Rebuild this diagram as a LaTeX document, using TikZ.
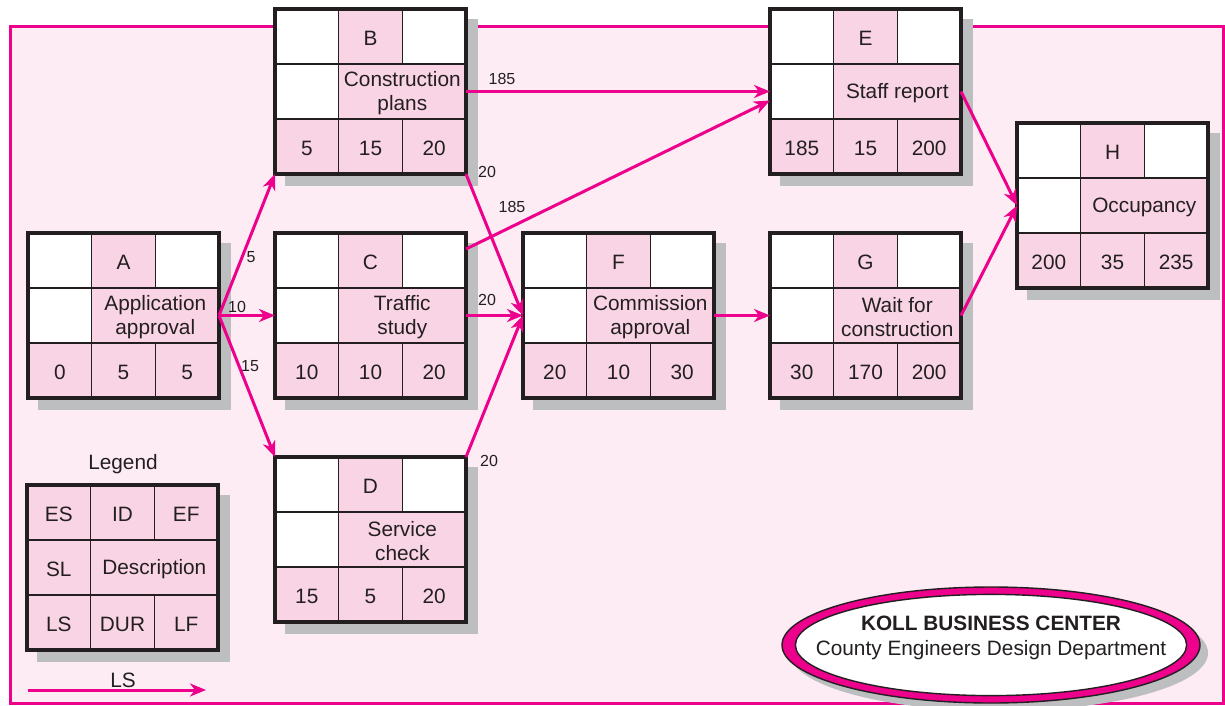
\documentclass[tikz,border=0pt]{standalone}
\usepackage{fontspec}
\setmainfont{Liberation Sans}
\usetikzlibrary{arrows.meta,calc}
\definecolor{mag}{RGB}{236,0,140}
\definecolor{bgpink}{RGB}{253,236,244}
\definecolor{cellpink}{RGB}{249,212,228}
\definecolor{shadowgray}{RGB}{188,190,192}
\definecolor{boxline}{RGB}{35,31,32}
\tikzset{
  thinline/.style={draw=boxline, line width=0.65pt},
  thickline/.style={draw=boxline, line width=1.6pt},
  boxanchor/.style={rectangle, inner sep=0pt, outer sep=0pt, minimum width=95.5pt, minimum height=82.5pt},
  celltext/.style={inner sep=0pt, yshift=-1pt, text=boxline, font=\fontsize{10.4}{12}\selectfont, align=center},
  lbl/.style={inner sep=0pt, text=boxline, font=\fontsize{8}{9.6}\selectfont},
  arr/.style={draw=mag, line width=1.5pt, -{Stealth[length=8pt,width=6.5pt,inset=2.5pt]}}
}
\newcommand\gridbox[4]{%
  \begin{scope}[shift={(#2,#3)}]
    \fill[shadowgray] (10,10) rectangle (203,177);
    \fill[cellpink] (0,0) rectangle (191,165);
    \fill[#4] (0,0) rectangle (63.67,55);
    \fill[#4] (127.33,0) rectangle (191,55);
    \fill[#4] (0,55) rectangle (63.67,110);
    \draw[thinline] (63.67,0) -- (63.67,165) (127.33,0) -- (127.33,55)
      (127.33,110) -- (127.33,165) (0,55) -- (191,55) (0,110) -- (191,110);
    \draw[thickline] (0,0) rectangle (191,165);
    \node[boxanchor] (#1) at (95.5,82.5) {};
  \end{scope}}
\newcommand\actbox[8]{%
  \gridbox{#1}{#2}{#3}{white}%
  \begin{scope}[shift={(#2,#3)}]
    \node[celltext] (#1-id) at (95.5,27.5) {#4};
    \node[celltext] (#1-desc) at (127.3,82.5) {#5};
    \node[celltext] (#1-es) at (31.8,137.5) {#6};
    \node[celltext] (#1-dur) at (95.5,137.5) {#7};
    \node[celltext] (#1-ef) at (159.2,137.5) {#8};
  \end{scope}}
\begin{document}
\begin{tikzpicture}[x=0.5pt,y=-0.5pt]
\useasboundingbox (0,0) rectangle (1225,706);
\fill[bgpink] (10,27) rectangle (1223,703);
\draw[mag, line width=1.5pt] (10,27) rectangle (1223,703);

\actbox{A}{28}{233}{A}{Application\\approval}{0}{5}{5}
\actbox{B}{275}{9}{B}{Construction\\plans}{5}{15}{20}
\actbox{C}{275}{233}{C}{Traffic\\study}{10}{10}{20}
\actbox{D}{275}{457}{D}{Service\\check}{15}{5}{20}
\actbox{E}{770}{9}{E}{Staff report}{185}{15}{200}
\actbox{F}{523}{233}{F}{Commission\\approval}{20}{10}{30}
\actbox{G}{770}{233}{G}{Wait for\\construction}{30}{170}{200}
\actbox{H}{1017}{123}{H}{Occupancy}{200}{35}{235}

% legend
\node[celltext] (legend) at (123,462) {Legend};
\gridbox{L}{27}{485}{cellpink}
\begin{scope}[shift={(27,485)}]
  \node[celltext] (L-es) at (31.8,27.5) {ES};
  \node[celltext] (L-id) at (95.5,27.5) {ID};
  \node[celltext] (L-ef) at (159.2,27.5) {EF};
  \node[celltext] (L-sl) at (31.8,82.5) {SL};
  \node[celltext] (L-desc) at (127.3,82.5) {Description};
  \node[celltext] (L-ls) at (31.8,137.5) {LS};
  \node[celltext] (L-dur) at (95.5,137.5) {DUR};
  \node[celltext] (L-lf) at (159.2,137.5) {LF};
\end{scope}
\node[celltext] (lslabel) at (123,678) {LS};
\coordinate (lsstart) at (28,690);
\coordinate (lsend) at (206,690);
\draw[arr] (lsstart) -- (lsend);

% connectors
\draw[arr] (A.east) -- (B.south west);
\draw[arr] (A.east) -- (C.west);
\draw[arr] (A.east) -- (D.north west);
\draw[arr] (B.east) -- (E.west);
\draw[arr] (B.south east) -- (F.west);
\draw[arr] ($(C.north east)+(0,16)$) -- ($(E.west)+(0,9)$);
\draw[arr] (C.east) -- (F.west);
\draw[arr] (D.north east) -- (F.west);
\draw[arr] (F.east) -- (G.west);
\draw[arr] (E.east) -- (H.west);
\draw[arr] (G.east) -- (H.west);

% connector labels
\node[lbl] at (251,257) {5};
\node[lbl] at (237,307) {10};
\node[lbl] at (250,366) {15};
\node[lbl] at (502,79) {185};
\node[lbl] at (487,172) {20};
\node[lbl] at (512,207) {185};
\node[lbl] at (487,300) {20};
\node[lbl] at (489,461) {20};

% title ellipse
\fill[shadowgray] (999,653) ellipse [x radius=104.5pt, y radius=29pt];
\filldraw[fill=mag, draw=boxline, line width=0.7pt] (991,645) ellipse [x radius=104.5pt, y radius=29pt];
\filldraw[fill=white, draw=boxline, line width=0.7pt] (991,645) ellipse [x radius=97.8pt, y radius=25.3pt];
\node[celltext, font=\fontsize{10.4}{12.5}\selectfont] (title) at (991,636) {\textbf{KOLL BUSINESS CENTER}\\County Engineers Design Department};
\end{tikzpicture}
\end{document}
